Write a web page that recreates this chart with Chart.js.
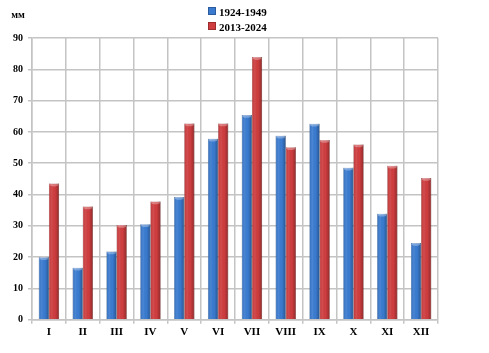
<!DOCTYPE html>
<html>
<head>
<meta charset="utf-8">
<script src="https://cdn.jsdelivr.net/npm/chart.js@4/dist/chart.umd.min.js"></script>
<style>
  body { margin: 0; background: #fff; }
  #wrap { position: relative; width: 489px; height: 353px; }
  #legend { position: absolute; left: 208px; top: 5px; font: bold 11px 'Liberation Serif', 'Times New Roman', serif; color: #000; }
  #legend div { height: 15px; line-height: 15px; white-space: nowrap; }
  #legend span.box { display: inline-block; width: 6px; height: 6px; margin-right: 3px; vertical-align: 1px; }
</style>
</head>
<body>
<div id="wrap">
  <canvas id="c" width="489" height="353"></canvas>
  <div id="legend"></div>
</div>
<script>
const months = ['I', 'II', 'III', 'IV', 'V', 'VI', 'VII', 'VIII', 'IX', 'X', 'XI', 'XII'];
const period1 = [20, 16.6, 21.8, 30.5, 39.2, 57.8, 65.4, 58.8, 62.6, 48.6, 33.9, 24.5];
const period2 = [43.5, 36.2, 30.3, 37.8, 62.7, 62.7, 83.9, 55.1, 57.4, 56, 49.2, 45.3];
const seriesNames = ['1924-1949', '2013-2024'];
const seriesColors = ['#3a7bd0', '#cf3d3f'];
const unitLabel = 'мм';

const serif = "'Liberation Serif', 'Times New Roman', serif";

// unit label in the top-left corner
const unitPlugin = {
    id: 'unit',
    afterDraw(chart) {
        const ctx = chart.ctx;
        ctx.save();
        ctx.font = 'bold 10px ' + serif;
        ctx.fillStyle = '#000';
        ctx.textAlign = 'center';
        ctx.textBaseline = 'middle';
        ctx.fillText(unitLabel, 18, 15);
        ctx.restore();
    }
};

// cylinder-like shading on top of each bar
const shadePlugin = {
    id: 'shade',
    afterDatasetsDraw(chart) {
        const ctx = chart.ctx;
        chart.data.datasets.forEach((ds, i) => {
            chart.getDatasetMeta(i).data.forEach(bar => {
                const left = bar.x - bar.width / 2;
                const right = bar.x + bar.width / 2;
                const g = ctx.createLinearGradient(left, 0, right, 0);
                g.addColorStop(0, 'rgba(0,0,0,0.1)');
                g.addColorStop(0.3, 'rgba(255,255,255,0.08)');
                g.addColorStop(0.6, 'rgba(0,0,0,0)');
                g.addColorStop(1, 'rgba(0,0,0,0.3)');
                ctx.save();
                ctx.fillStyle = g;
                ctx.fillRect(left, bar.y, bar.width, bar.base - bar.y);
                ctx.fillStyle = 'rgba(255,255,255,0.3)';
                ctx.beginPath();
                ctx.ellipse(bar.x, bar.y + 1, bar.width / 2 - 0.5, 1.8, 0, 0, Math.PI * 2);
                ctx.fill();
                ctx.restore();
            });
        });
    }
};

const chart = new Chart(document.getElementById('c'), {
    type: 'bar',
    data: {
        labels: months,
        datasets: [{
            label: seriesNames[0],
            data: period1,
            backgroundColor: seriesColors[0],
            borderColor: '#2b5c9e',
            borderWidth: 0.5
        }, {
            label: seriesNames[1],
            data: period2,
            backgroundColor: seriesColors[1],
            borderColor: '#9c2c2e',
            borderWidth: 0.5
        }]
    },
    options: {
        responsive: false,
        animation: false,
        layout: { padding: { left: 8, right: 51, top: 38, bottom: 12 } },
        datasets: {
            bar: { barPercentage: 1, categoryPercentage: 0.6 }
        },
        plugins: {
            tooltip: { enabled: false },
            legend: { display: false }
        },
        scales: {
            x: {
                grid: { color: '#c4c4c4', lineWidth: 1.5, tickLength: 4 },
                border: { color: '#c4c4c4', width: 1.5 },
                ticks: {
                    color: '#000',
                    padding: 2,
                    font: { family: serif, size: 11, weight: 'bold' }
                }
            },
            y: {
                min: 0,
                max: 90,
                ticks: {
                    stepSize: 10,
                    color: '#000',
                    padding: 5,
                    font: { family: serif, size: 10, weight: 'bold' }
                },
                grid: { color: '#c4c4c4', lineWidth: 1.5, tickLength: 4 },
                border: { color: '#c4c4c4', width: 1.5 }
            }
        }
    },
    plugins: [unitPlugin, shadePlugin]
});

// legend as stacked rows, built from the datasets
const legend = document.getElementById('legend');
chart.data.datasets.forEach(ds => {
    const row = document.createElement('div');
    const box = document.createElement('span');
    box.className = 'box';
    box.style.background = ds.backgroundColor;
    box.style.border = '0.5px solid ' + ds.borderColor;
    row.appendChild(box);
    row.appendChild(document.createTextNode(ds.label));
    legend.appendChild(row);
});
</script>
</body>
</html>
